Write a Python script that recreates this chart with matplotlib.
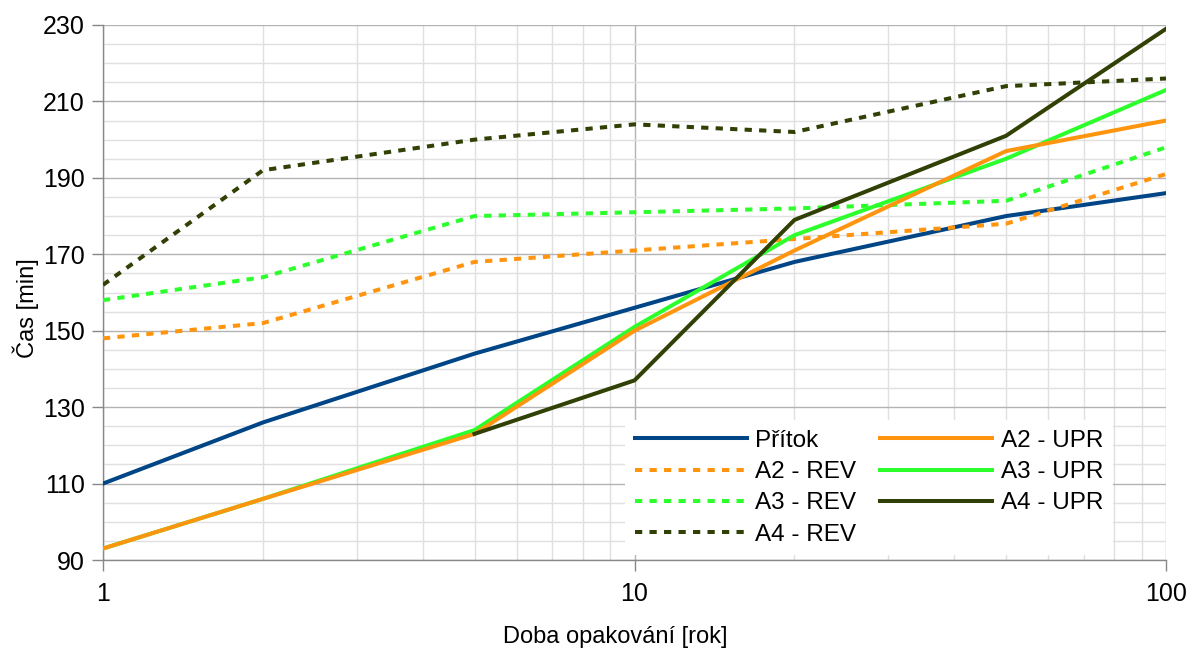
import matplotlib.pyplot as plt
from matplotlib.ticker import FixedLocator, NullFormatter
import numpy as np

plt.rcParams['font.family'] = ['Liberation Sans', 'DejaVu Sans']

# doba opakovani [rok]
T = [1, 2, 5, 10, 20, 50, 100]

pritok = [110, 126, 144, 156, 168, 180, 186]
a2_rev = [148, 152, 168, 171, 174, 178, 191]
a3_rev = [158, 164, 180, 181, 182, 184, 198]
a4_rev = [162, 192, 200, 204, 202, 214, 216]
a2_upr = [93, 106, 123, 150, 171, 197, 205]
a3_upr = [93, 106, 124, 151, 175, 195, 213]
a4_upr = [np.nan, np.nan, 123, 137, 179, 201, 229]

blue = '#004586'
orange = '#ff950e'
green = '#2cff2c'
dark = '#314004'

fig = plt.figure(figsize=(11.91, 6.48), dpi=100)
ax = fig.add_axes([103/1191, 1 - 560/648, 1063/1191, 535/648])

lw = 2.9
dash = (0, (1.8, 1.8))
l1, = ax.plot(T, pritok, color=blue, lw=lw, label='Přítok', zorder=3)
l2, = ax.plot(T, a2_rev, color=orange, lw=lw, ls=dash, label='A2 - REV', zorder=3)
l3, = ax.plot(T, a3_rev, color=green, lw=lw, ls=dash, label='A3 - REV', zorder=3)
l4, = ax.plot(T, a4_rev, color=dark, lw=lw, ls=dash, label='A4 - REV', zorder=3)
l6, = ax.plot(T, a3_upr, color=green, lw=lw, label='A3 - UPR', zorder=4)
l5, = ax.plot(T, a2_upr, color=orange, lw=lw, label='A2 - UPR', zorder=5)
l7, = ax.plot(T, a4_upr, color=dark, lw=lw, label='A4 - UPR', zorder=6)

ax.set_xscale('log')
ax.set_xlim(1, 100)
ax.set_ylim(90, 230)
ax.set_xticks([1, 10, 100])
ax.set_xticklabels(['1', '10', '100'])
ax.xaxis.set_minor_locator(FixedLocator([2, 3, 4, 5, 6, 7, 8, 9, 20, 30, 40, 50, 60, 70, 80, 90]))
ax.xaxis.set_minor_formatter(NullFormatter())
ax.set_yticks(np.arange(90, 231, 20))
ax.yaxis.set_minor_locator(FixedLocator(np.arange(90, 231, 5)))

ax.grid(which='major', color='#b3b3b3', lw=1.0, zorder=0)
ax.grid(which='minor', color='#e0e0e0', lw=1.0, zorder=0)
ax.set_axisbelow(True)

for s in ['top', 'right']:
    ax.spines[s].set_visible(False)
for s in ['left', 'bottom']:
    ax.spines[s].set_color('#888888')
    ax.spines[s].set_linewidth(1.0)

ax.tick_params(which='major', length=8, width=1, color='#888888', labelsize=18, pad=5)
ax.tick_params(axis='x', which='major', pad=8)
ax.tick_params(which='minor', length=0)

ax.set_ylabel('Čas [min]', fontsize=17)
ax.yaxis.set_label_coords(-0.06, 0.47)
ax.set_xlabel('Doba opakování [rok]', fontsize=17)
ax.xaxis.set_label_coords(0.4817, -0.124)

leg = ax.legend(handles=[l1, l2, l3, l4, l5, l6, l7], ncol=2, fontsize=17.5,
                loc='upper left', bbox_to_anchor=(613/1191, 1 - 408/648),
                bbox_transform=fig.transFigure,
                handlelength=4.6, handletextpad=0.35, columnspacing=1.0,
                labelspacing=0.38, borderpad=0.4, frameon=True, fancybox=False)
leg.get_frame().set_facecolor('white')
leg.get_frame().set_edgecolor('none')
leg.get_frame().set_alpha(1)
leg.set_zorder(10)

fig.savefig('out.png', dpi=100)
